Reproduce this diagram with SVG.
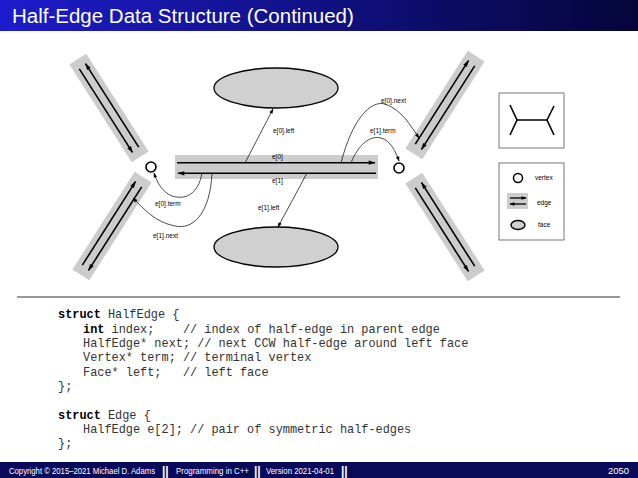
<svg xmlns="http://www.w3.org/2000/svg" width="638" height="478" viewBox="0 0 638 478">
<defs>
<linearGradient id="tg" x1="0" x2="1" y1="0" y2="0"><stop offset="0" stop-color="#1c1ccc"/><stop offset="1" stop-color="#05053a"/></linearGradient>
<marker id="ah" viewBox="0 0 10 10" refX="9" refY="5" markerUnits="userSpaceOnUse" markerWidth="9" markerHeight="7" orient="auto"><path d="M0,2 L10,5 L0,8 Z" fill="#000"/></marker>
<marker id="ahs" viewBox="0 0 10 10" refX="9" refY="5" markerUnits="userSpaceOnUse" markerWidth="6" markerHeight="5" orient="auto"><path d="M0,1.5 L10,5 L0,8.5 Z" fill="#000"/></marker>
<marker id="sa" viewBox="0 0 10 10" refX="9" refY="5" markerUnits="userSpaceOnUse" markerWidth="6" markerHeight="5" orient="auto"><path d="M0,1.5 L10,5 L0,8.5 Z" fill="#000"/></marker>
<style>
.band{fill:#cccccc}
.he{stroke:#000;stroke-width:1.6;fill:none;marker-end:url(#ah)}
.hs{stroke:#000;stroke-width:1.3;fill:none;marker-end:url(#ahs)}
.ptr{stroke:#000;stroke-width:0.7;fill:none;marker-end:url(#sa)}
.lbl{font-family:"Liberation Sans",Arial,sans-serif;font-size:6.5px;fill:#000}
.code{font-family:"Liberation Mono","Courier New",monospace;font-size:11.9px;fill:#333;white-space:pre}
.ft{font-family:"Liberation Sans",Arial,sans-serif;font-size:9.5px;fill:#fff}
.sep{font-family:"Liberation Sans",Arial,sans-serif;font-size:12px;font-weight:bold;fill:#fff}
</style>
</defs>
<rect width="638" height="478" fill="#fff"/>
<rect x="0" y="0" width="638" height="31" fill="url(#tg)"/>
<text x="12" y="23" font-family="Liberation Sans,Arial,sans-serif" font-size="20.5" fill="#fff">Half-Edge Data Structure (Continued)</text>

<g id="edge-tl"><g transform="translate(109,108) rotate(57.5)"><rect x="-58" y="-10" width="116" height="20" class="band"/><line x1="49" y1="-4" x2="-50" y2="-4" class="he"/><line x1="-49" y1="4" x2="50" y2="4" class="he"/></g></g>
<g id="edge-bl"><g transform="translate(112,226) rotate(-57.5)"><rect x="-58" y="-10" width="116" height="20" class="band"/><line x1="-49" y1="-4" x2="50" y2="-4" class="he"/><line x1="49" y1="4" x2="-50" y2="4" class="he"/></g></g>
<g id="edge-tr"><g transform="translate(445,105) rotate(-57.5)"><rect x="-58" y="-10" width="116" height="20" class="band"/><line x1="-49" y1="-4" x2="50" y2="-4" class="he"/><line x1="49" y1="4" x2="-50" y2="4" class="he"/></g></g>
<g id="edge-br"><g transform="translate(445,227) rotate(57.5)"><rect x="-58" y="-10" width="116" height="20" class="band"/><line x1="49" y1="-4" x2="-50" y2="-4" class="he"/><line x1="-49" y1="4" x2="50" y2="4" class="he"/></g></g>

<g id="edge-main"><rect x="175" y="155" width="203" height="24" class="band"/><line x1="177" y1="162.7" x2="375" y2="162.7" class="he"/><line x1="376" y1="173.3" x2="178" y2="173.3" class="he"/>
<text x="272" y="159" class="lbl">e[0]</text><text x="272" y="183" class="lbl">e[1]</text></g>

<g id="vertex-l"><circle cx="151" cy="167" r="5" fill="#fff" stroke="#000" stroke-width="1.6"/></g>
<g id="vertex-r"><circle cx="399" cy="168" r="5" fill="#fff" stroke="#000" stroke-width="1.6"/></g>
<g id="face-top"><ellipse cx="276" cy="88" rx="62" ry="20" fill="#d0d0d0" stroke="#000" stroke-width="1.3"/></g>
<g id="face-bot"><ellipse cx="276" cy="247" rx="62" ry="20" fill="#d0d0d0" stroke="#000" stroke-width="1.3"/></g>

<g id="connectors">
<line x1="245" y1="163" x2="273" y2="109" class="ptr"/>
<line x1="307" y1="173" x2="278" y2="227" class="ptr"/>
<path d="M341,163 C352,120 370,100 385,104 C402,110 410,125 419,138" class="ptr"/>
<path d="M351,163 C358,145 370,135 381,138 C390,140 396,152 399,161" class="ptr"/>
<path d="M202,173 C198,195 185,200 172,196 C162,192 157,182 154,173" class="ptr"/>
<path d="M212,173 C210,215 192,230 175,226 C155,222 145,210 133,198" class="ptr"/>
</g>
<text x="273" y="133" class="lbl">e[0].left</text>
<text x="258" y="210" class="lbl">e[1].left</text>
<text x="381" y="103" class="lbl">e[0].next</text>
<text x="370" y="133" class="lbl">e[1].term</text>
<text x="155" y="206" class="lbl">e[0].term</text>
<text x="153" y="238" class="lbl">e[1].next</text>

<g id="legend-graph"><rect x="499" y="93" width="65" height="55" fill="#fff" stroke="#555" stroke-width="0.8"/>
<path d="M517,120 L547,120 M510,105 L517,120 L510,135 M554,106 L547,120 L554,135" stroke="#000" stroke-width="1.6" fill="none"/></g>
<g id="legend-key"><rect x="499" y="163" width="65" height="77" fill="#fff" stroke="#555" stroke-width="0.8"/>
<circle cx="518" cy="178" r="4.5" fill="#fff" stroke="#000" stroke-width="1.5"/><text x="535" y="180" class="lbl">vertex</text>
<rect x="507" y="193" width="21" height="16" class="band"/><line x1="510" y1="198" x2="526" y2="198" class="hs"/><line x1="526" y1="204" x2="510" y2="204" class="hs"/><text x="537" y="205" class="lbl">edge</text>
<ellipse cx="518" cy="225" rx="7" ry="4.5" fill="#d0d0d0" stroke="#000" stroke-width="1.4"/><text x="538" y="227" class="lbl">face</text></g>

<line x1="17" y1="297" x2="620" y2="297" stroke="#333" stroke-width="1"/>
<text class="code" x="58" y="318"><tspan font-weight="bold" fill="#000">struct</tspan> HalfEdge {</text>
<text class="code" x="83" y="332.5"><tspan font-weight="bold" fill="#000">int</tspan> index;    // index of half-edge in parent edge</text>
<text class="code" x="83" y="347">HalfEdge* next; // next CCW half-edge around left face</text>
<text class="code" x="83" y="361.3">Vertex* term; // terminal vertex</text>
<text class="code" x="83" y="375.6">Face* left;   // left face</text>
<text class="code" x="58" y="390">};</text>
<text class="code" x="58" y="418.5"><tspan font-weight="bold" fill="#000">struct</tspan> Edge {</text>
<text class="code" x="83" y="433">HalfEdge e[2]; // pair of symmetric half-edges</text>
<text class="code" x="58" y="447.3">};</text>

<rect x="0" y="462" width="638" height="16" fill="#0a0a5a"/>
<text x="9" y="474" class="ft" textLength="146" lengthAdjust="spacingAndGlyphs">Copyright © 2015–2021 Michael D. Adams</text>
<text x="162" y="475" class="sep">||</text>
<text x="176" y="474" class="ft" textLength="73" lengthAdjust="spacingAndGlyphs">Programming in C++</text>
<text x="254" y="475" class="sep">||</text>
<text x="266" y="474" class="ft" textLength="68" lengthAdjust="spacingAndGlyphs">Version 2021-04-01</text>
<text x="341" y="475" class="sep">||</text>
<text x="608" y="474" class="ft">2050</text>
</svg>
